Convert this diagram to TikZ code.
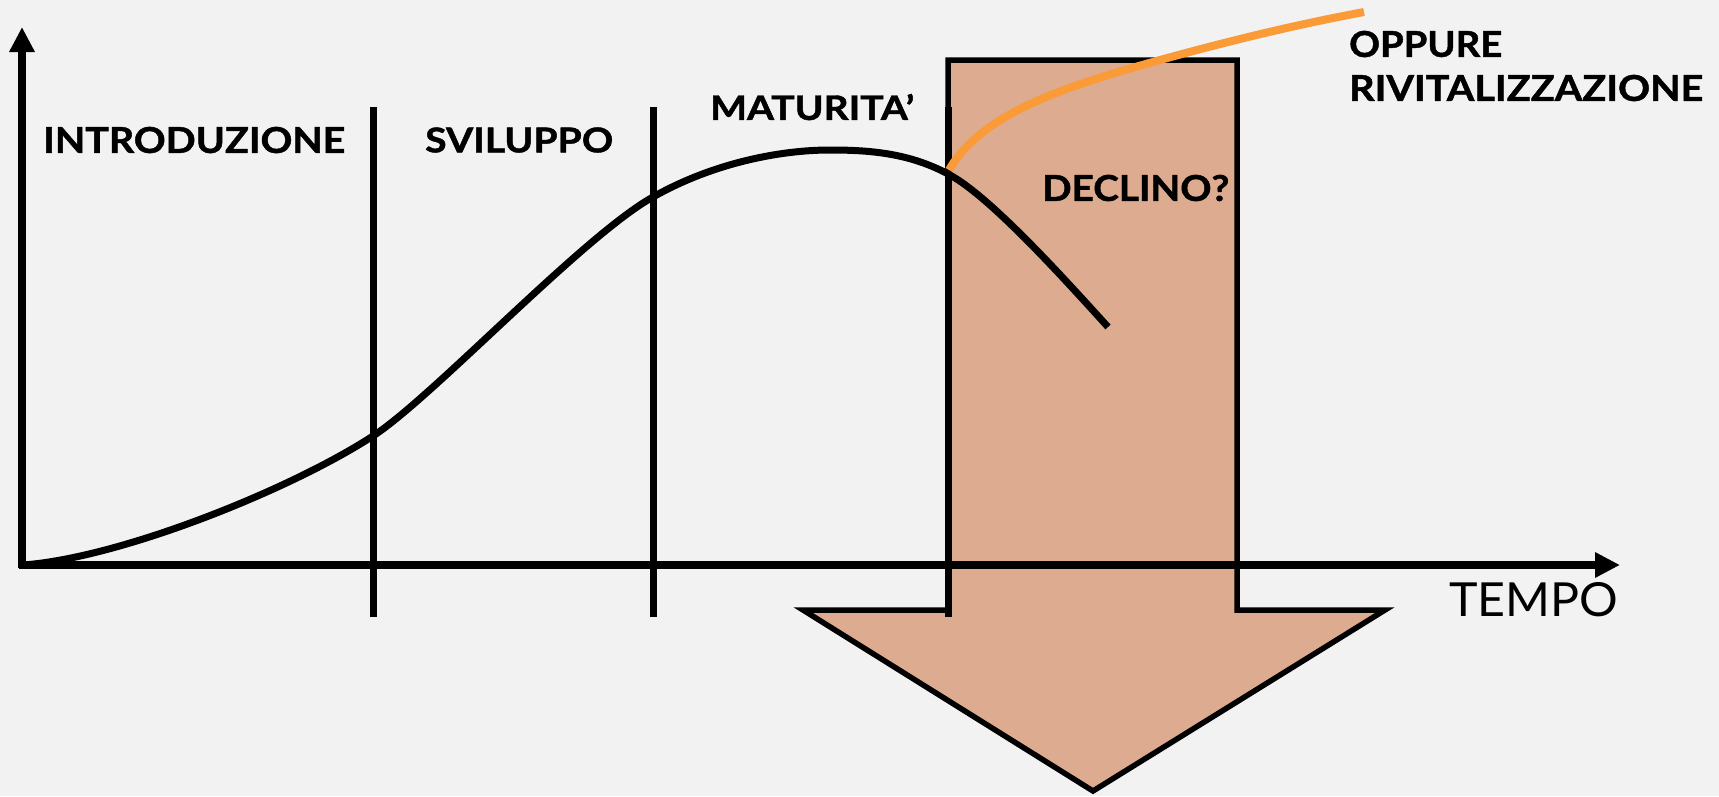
\documentclass[tikz,border=0pt]{standalone}
\usepackage{fontspec}
\setmainfont{Lato}[BoldFeatures={FakeBold=1.2}]
\usetikzlibrary{arrows.meta}
\definecolor{bgc}{HTML}{F2F2F2}
\definecolor{boxc}{HTML}{DDAB8F}
\definecolor{orng}{HTML}{FA9B38}
\newcommand{\fitlbl}[3]{\resizebox{#1pt}{#2pt}{\bfseries #3}}
\begin{document}
\begin{tikzpicture}[x=1pt,y=-1pt,
  axisline/.style={line width=7.5pt,-{Triangle[width=24pt,length=25pt]}},
  divider/.style={line width=7pt},
  curveline/.style={line width=7pt},
  lbl/.style={inner sep=0pt,anchor=west}]
\fill[bgc] (0,0) rectangle (1719,796);
\useasboundingbox (0,0) rectangle (1719,796);
% declining arrow
\filldraw[fill=boxc,draw=black,line width=5.5pt]
  (948,60) -- (1237,60) -- (1237,610) -- (1385,610) -- (1093,791) -- (803,610) -- (948,610) -- cycle;
% axes
\draw[axisline] (22,568) -- (22,27);
\draw[axisline] (19,565) -- (1620,565);
% dividers
\draw[divider] (373,107) -- (373,617);
\draw[divider] (653,107) -- (653,617);
\draw[divider] (948,107) -- (948,617);
% life cycle curve
\draw[curveline] (23,565) .. controls (120,558) and (290,490) .. (373,436)
  .. controls (433,397) and (583,236) .. (653,197)
  .. controls (713,163) and (780,150) .. (830,150)
  .. controls (870,150) and (910,153) .. (950,175)
  .. controls (990,197) and (1060,274) .. (1108,327);
% revitalisation
\draw[line width=8pt,orng] (949,170) .. controls (982,112) and (1070,85) .. (1160,60)
  .. controls (1240,38) and (1300,24) .. (1364,12);
% labels
\node[lbl] (intro) at (43,140) {\fitlbl{302}{26}{INTRODUZIONE}};
\node[lbl] (svil) at (425,140) {\fitlbl{188}{25}{SVILUPPO}};
\node[lbl] (matur) at (710,107) {\fitlbl{204}{26}{MATURITA’}};
\node[lbl] (decl) at (1042,188) {\fitlbl{187}{26}{DECLINO?}};
\node[lbl] (opp) at (1349,44) {\fitlbl{153}{26}{OPPURE}};
\node[lbl] (rivit) at (1349,88) {\fitlbl{354}{26}{RIVITALIZZAZIONE}};
\node[lbl] (tempo) at (1449,600) {\resizebox{169pt}{34pt}{TEMPO}};
\end{tikzpicture}
\end{document}
